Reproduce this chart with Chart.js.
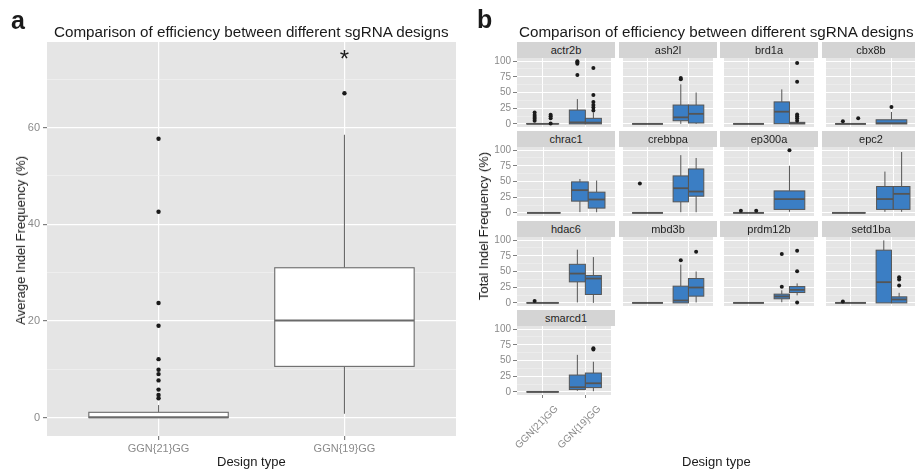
<!DOCTYPE html>
<html>
<head>
<meta charset="utf-8">
<script src="https://cdn.jsdelivr.net/npm/chart.js@4.4.1/dist/chart.umd.min.js"></script>
<style>
  html, body { margin: 0; padding: 0; background: #fff; overflow: hidden; }
  #page { position: relative; width: 915px; height: 469px; overflow: hidden; font-family: 'Liberation Sans', Arial, sans-serif; }
  canvas { position: absolute; z-index: 1; }
  .txt { position: absolute; white-space: nowrap; line-height: 1; color: #1a1a1a; z-index: 3; }
  .strip { position: absolute; background: #d4d4d4; color: #1f1f1f; font-size: 11px; display: flex; align-items: center; justify-content: center; z-index: 3; }
</style>
</head>
<body>
<div id="page"></div>
<script>
const designTypes = ['GGN{21}GG', 'GGN{19}GG'];

// panel a, per design: [lower whisker, Q1, median, Q3, upper whisker]
const overallStats = [
  [0, 0, 0.1, 1.1, 2.6],
  [0.8, 10.6, 20.1, 31.0, 58.5]
];
const overallOutliers = [
  [57.7, 42.6, 23.7, 19.0, 12.1, 9.9, 9.0, 7.7, 5.8, 4.7, 4.0],
  [67.1]
];
const overallTicks = [0, 20, 40, 60];
const overallMinor = [10, 30, 50, 70];
const starValue = 74;

// panel b, one row per box: [design, replicate (0 = only one), [low, Q1, median, Q3, high], outliers]
const genes = ['actr2b', 'ash2l', 'brd1a', 'cbx8b', 'chrac1', 'crebbpa', 'ep300a', 'epc2', 'hdac6', 'mbd3b', 'prdm12b', 'setd1ba', 'smarcd1'];
const actr2b = [
  [0, 1, [0, 0, 0, 0.4, 1], [18, 14, 11, 8, 5]],
  [0, 2, [0, 0, 0, 0.4, 1], [14.5, 12, 9, 0.5]],
  [1, 1, [0, 0, 2.4, 22, 39.5], [100, 98, 96, 78]],
  [1, 2, [0, 0, 2, 8.8, 18], [89, 46, 35, 30, 26, 21.5]]
];
const ash2l = [
  [0, 1, [0, 0, 0, 0, 0], []],
  [0, 2, [0, 0, 0, 0, 0], []],
  [1, 1, [0, 5, 10.4, 30, 63], [73, 71]],
  [1, 2, [0, 1.4, 16, 30, 50], []]
];
const brd1a = [
  [0, 1, [0, 0, 0, 0, 0], []],
  [0, 2, [0, 0, 0, 0, 0], []],
  [1, 1, [0, 0.3, 19.4, 35, 55], []],
  [1, 2, [0, 0, 1, 2.4, 3], [97, 67, 15, 12, 9, 5]]
];
const cbx8b = [
  [0, 1, [0, 0, 0, 0, 0], [4]],
  [0, 2, [0, 0, 0, 0, 0], [9]],
  [1, 0, [0, 0, 1, 6.5, 19], [27]]
];
const chrac1 = [
  [0, 1, [0, 0, 0, 0, 0], []],
  [0, 2, [0, 0, 0, 0, 0], []],
  [1, 1, [1.2, 18.7, 36.2, 49.4, 54], []],
  [1, 2, [1, 7.6, 21.3, 33, 51.5], []]
];
const crebbpa = [
  [0, 1, [0, 0, 0, 0, 0], [47]],
  [0, 2, [0, 0, 0, 0, 0], []],
  [1, 1, [1, 17.6, 39.3, 58.9, 92], []],
  [1, 2, [1, 26.6, 34, 70, 87.5], []]
];
const ep300a = [
  [0, 1, [0, 0, 0, 0, 0], [3.5]],
  [0, 2, [0, 0, 0, 0, 0], [3.5]],
  [1, 0, [1.7, 5.5, 21.9, 35, 75], [100]]
];
const epc2 = [
  [0, 1, [0, 0, 0, 0, 0], []],
  [0, 2, [0, 0, 0, 0, 0], []],
  [1, 1, [1.7, 5.5, 22, 42, 65.8], []],
  [1, 2, [1.7, 5.5, 30.3, 42, 97], []]
];
const hdac6 = [
  [0, 1, [0, 0, 0, 0, 0], [2.8]],
  [0, 2, [0, 0, 0, 0, 0], []],
  [1, 1, [0.7, 33.5, 46.7, 61.5, 84.8], []],
  [1, 2, [0, 13.4, 38.8, 43.5, 73], []]
];
const mbd3b = [
  [0, 1, [0, 0, 0, 0, 0], []],
  [0, 2, [0, 0, 0, 0, 0], []],
  [1, 1, [0, 0, 3.8, 26.6, 61], [68]],
  [1, 2, [0.7, 10.7, 24.5, 38.8, 50], [81.6]]
];
const prdm12b = [
  [0, 1, [0, 0, 0, 0, 0], []],
  [0, 2, [0, 0, 0, 0, 0], []],
  [1, 1, [1, 6.5, 10.2, 13.9, 20], [25.5, 77.9]],
  [1, 2, [12, 16.5, 20.8, 26, 31], [83.2, 50.4, 0.7]]
];
const setd1ba = [
  [0, 1, [0, 0, 0, 0, 0], [2.2]],
  [0, 2, [0, 0, 0, 0, 0], []],
  [1, 1, [0, 0, 33, 84, 99.6], []],
  [1, 2, [0, 0, 5.4, 9.6, 16], [40.8, 37.2, 27.6]]
];
const smarcd1 = [
  [0, 1, [0, 0, 0, 0, 0], []],
  [0, 2, [0, 0, 0, 0, 0], []],
  [1, 1, [1.6, 3.7, 7.4, 26.8, 59], []],
  [1, 2, [1, 6.8, 13.7, 30, 48], [69.5, 67.4]]
];
const facetBoxes = [actr2b, ash2l, brd1a, cbx8b, chrac1, crebbpa, ep300a, epc2, hdac6, mbd3b, prdm12b, setd1ba, smarcd1];
const facetTicks = [0, 25, 50, 75, 100];
const facetMinor = [12.5, 37.5, 62.5, 87.5];

Chart.defaults.font.family = "'Liberation Sans', Arial, sans-serif";
const page = document.getElementById('page');
const tickGrey = '#8a8a8a';

function addText(text, x, baseline, size, opts = {}) {
  const el = document.createElement('div');
  el.className = 'txt';
  el.textContent = text;
  el.style.fontSize = size + 'px';
  if (opts.bold) el.style.fontWeight = 'bold';
  page.appendChild(el);
  if (opts.rotate) {
    // x, baseline = centre of the rotated label
    el.style.writingMode = 'vertical-rl';
    el.style.transform = 'rotate(180deg)';
    el.style.left = Math.round(x - el.offsetWidth / 2) + 'px';
    el.style.top = Math.round(baseline - el.offsetHeight / 2) + 'px';
  } else {
    const left = opts.center ? x - el.offsetWidth / 2 : x;
    el.style.left = Math.round(left) + 'px';
    el.style.top = Math.round(baseline - 0.85 * size) + 'px';
  }
}

function addCanvas(left, top, w, h) {
  const c = document.createElement('canvas');
  c.width = w; c.height = h;
  c.style.left = left + 'px';
  c.style.top = top + 'px';
  page.appendChild(c);
  return c;
}

// draws panel background, whiskers, boxes and medians from the chart's scales
const boxPlugin = {
  id: 'boxes',
  beforeDraw(chart, args, opts) {
    const a = chart.chartArea, ctx = chart.ctx;
    ctx.save();
    ctx.fillStyle = opts.panel;
    ctx.fillRect(a.left, a.top, a.right - a.left, a.bottom - a.top);
    ctx.restore();
  },
  beforeDatasetsDraw(chart, args, opts) {
    const { ctx, chartArea: a, scales: { x, y } } = chart;
    ctx.save();
    ctx.beginPath();
    ctx.rect(a.left, a.top, a.right - a.left, a.bottom - a.top);
    ctx.clip();
    ctx.strokeStyle = opts.stroke;
    for (const b of opts.boxes) {
      const [lo, q1, med, q3, hi] = b.stats;
      const xc = x.getPixelForValue(b.x);
      const x0 = x.getPixelForValue(b.x - b.w / 2);
      const x1 = x.getPixelForValue(b.x + b.w / 2);
      ctx.lineWidth = opts.lineWidth;
      ctx.beginPath();
      ctx.moveTo(xc, y.getPixelForValue(hi)); ctx.lineTo(xc, y.getPixelForValue(q3));
      ctx.moveTo(xc, y.getPixelForValue(q1)); ctx.lineTo(xc, y.getPixelForValue(lo));
      ctx.stroke();
      const top = y.getPixelForValue(q3), bot = y.getPixelForValue(q1);
      ctx.fillStyle = opts.fill;
      ctx.fillRect(x0, top, x1 - x0, bot - top);
      ctx.strokeRect(x0, top, x1 - x0, bot - top);
      ctx.lineWidth = opts.medianWidth;
      ctx.beginPath();
      ctx.moveTo(x0, y.getPixelForValue(med)); ctx.lineTo(x1, y.getPixelForValue(med));
      ctx.stroke();
    }
    ctx.restore();
    if (opts.star) {
      ctx.save();
      ctx.fillStyle = '#1a1a1a';
      ctx.font = "24px 'Liberation Sans', Arial, sans-serif";
      ctx.textAlign = 'center';
      ctx.textBaseline = 'middle';
      ctx.fillText('*', x.getPixelForValue(opts.star.x), y.getPixelForValue(opts.star.y));
      ctx.restore();
    }
  }
};

function boxPos(design, rep) {
  return design + 1 + (rep === 1 ? -0.1875 : rep === 2 ? 0.1875 : 0);
}

// ---------- panel a ----------
const aBoxes = overallStats.map((s, i) => ({ x: i + 1, w: 0.75, stats: s }));
const aPoints = [];
overallOutliers.forEach((list, i) => list.forEach(v => aPoints.push({ x: i + 1, y: v })));
const aMajor = new Set(overallTicks);

new Chart(addCanvas(0, 0, 470, 469), {
  type: 'scatter',
  data: { datasets: [{ data: aPoints, pointRadius: 2.2, backgroundColor: '#1a1a1a', borderWidth: 0 }] },
  plugins: [boxPlugin],
  options: {
    responsive: false, animation: false, events: [],
    layout: { padding: { top: 42, right: 14, left: 0, bottom: 0 } },
    plugins: {
      legend: { display: false }, tooltip: { enabled: false },
      boxes: { boxes: aBoxes, panel: '#e5e5e5', fill: '#ffffff', stroke: '#6a6a6a', lineWidth: 1.1, medianWidth: 2, star: { x: 2, y: starValue } }
    },
    scales: {
      x: {
        type: 'linear', min: 0.4, max: 2.6, bounds: 'data',
        afterBuildTicks: s => { s.ticks = designTypes.map((d, i) => ({ value: i + 1 })); },
        afterFit: s => { s.height = 33; },
        border: { display: false },
        grid: { color: '#ffffff', lineWidth: 1.2, tickLength: 4, tickColor: '#7f7f7f' },
        ticks: { autoSkip: false, maxRotation: 0, padding: 2, color: tickGrey, font: { size: 11 }, callback: v => designTypes[v - 1] }
      },
      y: {
        min: -3.8, max: 77.7, bounds: 'data',
        afterBuildTicks: s => { s.ticks = [...overallTicks, ...overallMinor].sort((p, q) => p - q).map(v => ({ value: v })); },
        afterFit: s => { s.width = 47; },
        border: { display: false },
        grid: {
          color: c => aMajor.has(c.tick.value) ? '#ffffff' : '#f3f3f3',
          lineWidth: c => aMajor.has(c.tick.value) ? 1.2 : 0.6,
          tickLength: 4,
          tickColor: c => aMajor.has(c.tick.value) ? '#7f7f7f' : 'rgba(0,0,0,0)'
        },
        ticks: { autoSkip: false, padding: 3, color: tickGrey, font: { size: 11 }, callback: v => aMajor.has(v) ? String(v) : '' }
      }
    }
  }
});

addText('a', 11, 29, 25, { bold: true });
addText('Comparison of efficiency between different sgRNA designs', 251.5, 37, 15.2, { center: true });
addText('Average Indel Frequency (%)', 20, 240, 13, { rotate: true });
addText('Design type', 251.5, 466, 13, { center: true });

// ---------- panel b ----------
const colLeft = [517, 619, 720, 822];
const rowTop = [58, 147, 237, 326];
const panelW = 98, panelH = 69;
const bMajor = new Set(facetTicks);

genes.forEach((gene, i) => {
  const col = i % 4, row = Math.floor(i / 4);
  const firstCol = col === 0;
  const xLabels = i === genes.length - 1;
  const padL = firstCol ? 40 : 0, padT = 8, padB = xLabels ? 70 : 8;

  const strip = document.createElement('div');
  strip.className = 'strip';
  strip.textContent = gene;
  strip.style.left = colLeft[col] + 'px';
  strip.style.top = (rowTop[row] - 16) + 'px';
  strip.style.width = panelW + 'px';
  strip.style.height = '16px';
  page.appendChild(strip);

  const rows = facetBoxes[i];
  const boxes = rows.map(r => ({ x: boxPos(r[0], r[1]), w: r[1] ? 0.375 : 0.75, stats: r[2] }));
  const points = [];
  rows.forEach(r => r[3].forEach(v => points.push({ x: boxPos(r[0], r[1]), y: v })));

  const canvas = addCanvas(colLeft[col] - padL, rowTop[row] - padT, panelW + padL, panelH + padT + padB);
  new Chart(canvas, {
    type: 'scatter',
    data: { datasets: [{ data: points, pointRadius: 2, backgroundColor: '#1a1a1a', borderWidth: 0 }] },
    plugins: [boxPlugin],
    options: {
      responsive: false, animation: false, events: [],
      layout: { padding: { top: padT, bottom: xLabels ? 0 : padB, left: 0, right: 0 } },
      plugins: {
        legend: { display: false }, tooltip: { enabled: false },
        boxes: { boxes, panel: '#e5e5e5', fill: '#3b7ec4', stroke: '#555555', lineWidth: 1, medianWidth: 1.8 }
      },
      scales: {
        x: {
          type: 'linear', min: 0.4, max: 2.6, bounds: 'data',
          afterBuildTicks: s => { s.ticks = designTypes.map((d, k) => ({ value: k + 1 })); },
          afterFit: s => { s.height = xLabels ? padB : 0; },
          border: { display: false },
          grid: { color: '#ffffff', lineWidth: 1, drawTicks: xLabels, tickLength: 3, tickColor: '#7f7f7f' },
          ticks: { display: xLabels, autoSkip: false, minRotation: 45, maxRotation: 45, padding: 5, labelOffset: 14, color: tickGrey, font: { size: 10 }, callback: v => designTypes[v - 1] }
        },
        y: {
          min: -5, max: 105, bounds: 'data',
          afterBuildTicks: s => { s.ticks = [...facetTicks, ...facetMinor].sort((p, q) => p - q).map(v => ({ value: v })); },
          afterFit: s => { s.width = padL; },
          border: { display: false },
          grid: {
            color: c => bMajor.has(c.tick.value) ? '#ffffff' : '#f3f3f3',
            lineWidth: c => bMajor.has(c.tick.value) ? 1 : 0.5,
            drawTicks: firstCol, tickLength: 4,
            tickColor: c => bMajor.has(c.tick.value) ? '#7f7f7f' : 'rgba(0,0,0,0)'
          },
          ticks: { display: firstCol, autoSkip: false, padding: 2, color: tickGrey, font: { size: 10 }, callback: v => bMajor.has(v) ? String(v) : '' }
        }
      }
    }
  });
});

addText('b', 477, 28.5, 25, { bold: true });
addText('Comparison of efficiency between different sgRNA designs', 716.5, 37, 15.2, { center: true });
addText('Total Indel Frequency (%)', 483, 226, 13, { rotate: true });
addText('Design type', 716, 466, 13, { center: true });
</script>
</body>
</html>
